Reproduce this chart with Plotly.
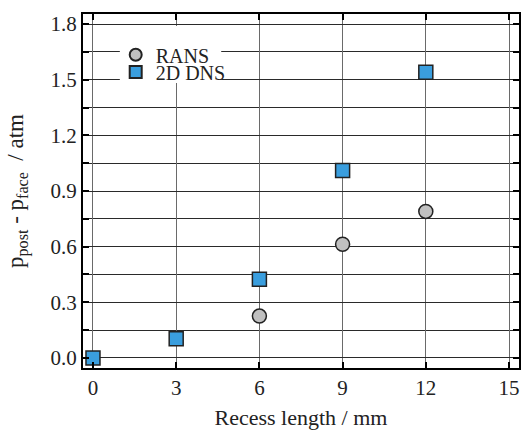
import plotly.graph_objects as go

# Pressure difference vs recess length
rans_x = [6, 9, 12]
rans_y = [0.226, 0.613, 0.790]
dns_x = [0, 3, 6, 9, 12]
dns_y = [0.0, 0.103, 0.425, 1.010, 1.540]

x_ticks = [0, 3, 6, 9, 12, 15]
y_ticks = [0.0, 0.3, 0.6, 0.9, 1.2, 1.5, 1.8]

font = "Times New Roman, Liberation Serif, serif"
ink = "#222222"

fig = go.Figure()
fig.add_trace(go.Scatter(
    x=rans_x, y=rans_y, mode="markers", name="RANS", legend="legend",
    marker=dict(symbol="circle", size=14, color="#c0c0c0",
                line=dict(color=ink, width=1.5)),
))
fig.add_trace(go.Scatter(
    x=dns_x, y=dns_y, mode="markers", name="2D DNS", legend="legend2",
    marker=dict(symbol="square", size=14, color="#3a9ede",
                line=dict(color=ink, width=1.5)),
))

axis_common = dict(
    showline=True, linecolor="black", linewidth=2, mirror="allticks",
    showgrid=True, gridwidth=1,
    ticks="inside", ticklen=6, tickcolor="black", tickwidth=2,
    zeroline=False,
    tickfont=dict(family=font, size=21, color=ink),
)

fig.update_xaxes(
    range=[-0.36, 15.36], tickvals=x_ticks,
    ticktext=[str(v) for v in x_ticks],
    gridcolor="#6a6a6a",
    title=dict(text="Recess length / mm", font=dict(family=font, size=22, color=ink), standoff=10),
    **axis_common,
)
fig.update_yaxes(
    range=[-0.054, 1.854], tickvals=y_ticks,
    ticktext=[f"{v:.1f}" for v in y_ticks],
    gridcolor="#2a2a2a",
    minor=dict(tickvals=[0.15, 0.45, 0.75, 1.05, 1.35, 1.65], ticks="inside",
               ticklen=6, tickcolor="black", showgrid=True,
               gridcolor="#2a2a2a", gridwidth=1),
    title=dict(text="p<sub>post</sub> - p<sub>face</sub>  / atm",
               font=dict(family=font, size=23, color=ink), standoff=20),
    **axis_common,
)

legend_style = dict(xanchor="left", yanchor="middle", bgcolor="rgba(0,0,0,0)",
                    borderwidth=0, itemsizing="constant",
                    font=dict(family=font, size=20, color=ink))

# white patch behind the legend entries, masking the grid
fig.add_shape(type="rect", xref="paper", yref="paper",
              x0=0.0845, x1=0.317, y0=0.805, y1=0.966,
              fillcolor="white", line=dict(width=0), layer="above")

fig.update_layout(
    width=523, height=432,
    margin=dict(l=83, r=2, t=14, b=64),
    plot_bgcolor="white", paper_bgcolor="white",
    font=dict(family=font, color=ink),
    legend=dict(x=0.075, y=0.885, **legend_style),
    legend2=dict(x=0.075, y=0.836, **legend_style),
    showlegend=True,
)

fig.write_html("out.html")
